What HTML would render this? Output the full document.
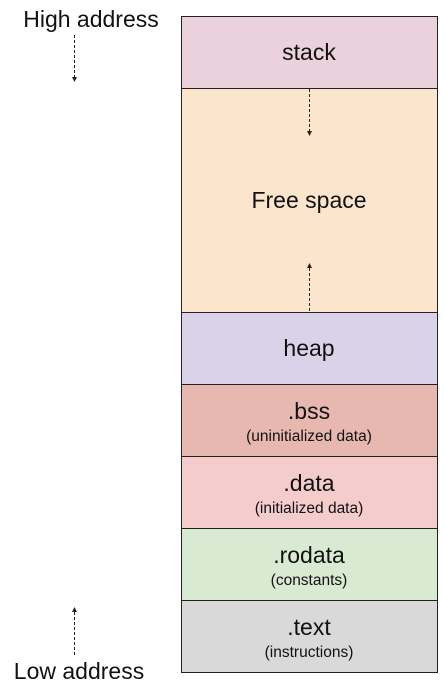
<!DOCTYPE html>
<html><head><style>body{margin:0;background:#fff}svg{display:block}text{font-family:"Liberation Sans",sans-serif;fill:#111}</style></head><body>
<svg width="445" height="689" viewBox="0 0 445 689" xmlns="http://www.w3.org/2000/svg">
<g stroke="#222" stroke-width="1">
<rect x="181.5" y="16.5" width="256" height="72" fill="#ead1dc"/>
<rect x="181.5" y="88.5" width="256" height="224" fill="#fce5cd"/>
<rect x="181.5" y="312.5" width="256" height="72" fill="#d9d2e9"/>
<rect x="181.5" y="384.5" width="256" height="72" fill="#e6b8af"/>
<rect x="181.5" y="456.5" width="256" height="72" fill="#f4cccc"/>
<rect x="181.5" y="528.5" width="256" height="72" fill="#d9ead3"/>
<rect x="181.5" y="600.5" width="256" height="72" fill="#d9d9d9"/>
</g>
<g stroke="#222" stroke-width="1" stroke-dasharray="3,2" fill="none">
<line x1="74.5" y1="35" x2="74.5" y2="77"/>
<line x1="74.5" y1="655" x2="74.5" y2="612"/>
<line x1="309.5" y1="89" x2="309.5" y2="131"/>
<line x1="309.5" y1="311" x2="309.5" y2="268"/>
</g>
<g fill="#222">
<path d="M72,77 L77,77 L74.5,82 Z"/>
<path d="M72,612 L77,612 L74.5,607 Z"/>
<path d="M307,131 L312,131 L309.5,136 Z"/>
<path d="M307,268 L312,268 L309.5,263 Z"/>
</g>
<text x="91" y="27" font-size="23" text-anchor="middle">High address</text>
<text x="79" y="679" font-size="23" text-anchor="middle">Low address</text>
<g text-anchor="middle">
<text x="309" y="60" font-size="23">stack</text>
<text x="309" y="208" font-size="23">Free space</text>
<text x="309" y="356" font-size="23">heap</text>
<text x="309" y="419" font-size="23">.bss</text>
<text x="309" y="441" font-size="15.5">(uninitialized data)</text>
<text x="309" y="491" font-size="23">.data</text>
<text x="309" y="513" font-size="15.5">(initialized data)</text>
<text x="309" y="563" font-size="23">.rodata</text>
<text x="309" y="585" font-size="15.5">(constants)</text>
<text x="309" y="635" font-size="23">.text</text>
<text x="309" y="657" font-size="15.5">(instructions)</text>
</g>
</svg>
</body></html>
